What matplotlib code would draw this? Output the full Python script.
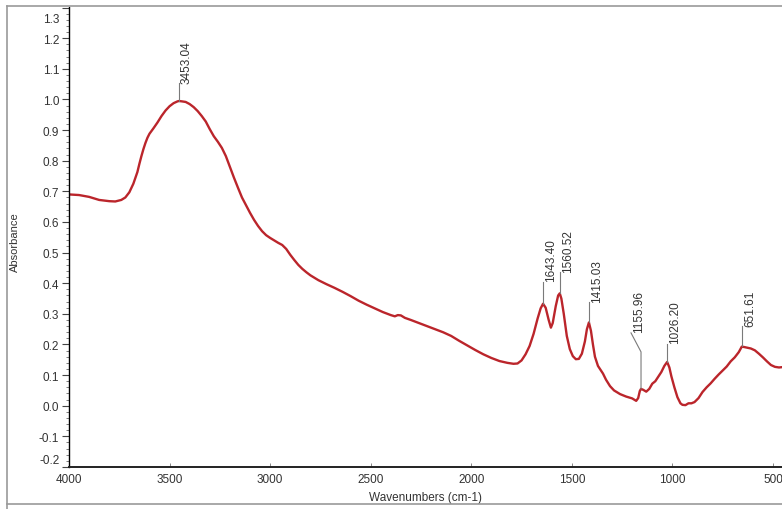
import matplotlib
matplotlib.use("Agg")
import matplotlib.pyplot as plt
import matplotlib.transforms as mtransforms
from matplotlib.lines import Line2D
from matplotlib.ticker import MultipleLocator

plt.rcParams['font.family'] = ['Liberation Sans', 'DejaVu Sans']

# FTIR absorbance spectrum
wavenumber = [
    4000, 3950, 3900, 3850, 3800, 3770, 3740, 3720, 3700, 3680, 3660, 3650, 3640,
    3630, 3620, 3610, 3600, 3580, 3560, 3540, 3520, 3500, 3480, 3460, 3453, 3440, 3420,
    3400, 3380, 3360, 3340, 3320, 3300, 3280, 3260, 3240, 3220, 3200, 3180,
    3160, 3140, 3120, 3100, 3080, 3060, 3040, 3020, 3000, 2980, 2960, 2940,
    2920, 2900, 2880, 2860, 2840, 2820, 2800, 2760, 2720, 2680, 2640, 2600,
    2560, 2520, 2480, 2440, 2400, 2380, 2365, 2350, 2330, 2300, 2260, 2220,
    2180, 2140, 2100, 2060, 2020, 1980, 1940, 1900, 1860, 1820, 1790, 1770,
    1750, 1730, 1710, 1690, 1670, 1655, 1643, 1630, 1615, 1604, 1595, 1580,
    1568, 1560, 1552, 1540, 1525, 1510, 1495, 1480, 1465, 1450, 1435, 1425,
    1415, 1405, 1395, 1385, 1370, 1355, 1345, 1330, 1310, 1290, 1260, 1230,
    1200, 1180, 1170, 1162, 1156, 1145, 1130, 1115, 1100, 1085, 1070, 1055,
    1040, 1026, 1015, 1005, 990, 975, 960, 950, 935, 920, 905, 890, 870, 850,
    830, 810, 790, 770, 750, 730, 710, 690, 670, 655, 645, 630, 610, 590, 570,
    550, 530, 510, 490, 470, 455,
]
absorbance = [
    0.690, 0.688, 0.682, 0.672, 0.668, 0.667, 0.672, 0.680, 0.697, 0.725, 0.763, 0.790, 0.815,
    0.838, 0.858, 0.875, 0.888, 0.906, 0.925, 0.946, 0.964, 0.978, 0.988, 0.994, 0.995, 0.994, 0.992,
    0.985, 0.975, 0.962, 0.946, 0.928, 0.903, 0.880, 0.862, 0.842, 0.815, 0.780, 0.745,
    0.712, 0.680, 0.655, 0.630, 0.607, 0.587, 0.570, 0.557, 0.548, 0.540, 0.532, 0.525,
    0.512, 0.493, 0.476, 0.460, 0.447, 0.436, 0.426, 0.410, 0.397, 0.385, 0.372, 0.358,
    0.343, 0.330, 0.318, 0.306, 0.296, 0.292, 0.296, 0.295, 0.287, 0.280, 0.270, 0.260,
    0.250, 0.240, 0.228, 0.212, 0.197, 0.182, 0.168, 0.156, 0.146, 0.140, 0.137, 0.138,
    0.148, 0.168, 0.195, 0.235, 0.285, 0.318, 0.333, 0.320, 0.280, 0.255, 0.270, 0.325,
    0.360, 0.367, 0.350, 0.300, 0.228, 0.185, 0.162, 0.152, 0.153, 0.170, 0.210, 0.250,
    0.272, 0.245, 0.200, 0.160, 0.130, 0.115, 0.105, 0.085, 0.064, 0.050, 0.038, 0.030,
    0.024, 0.016, 0.025, 0.048, 0.055, 0.052, 0.046, 0.055, 0.072, 0.080, 0.095, 0.110,
    0.130, 0.143, 0.125, 0.096, 0.060, 0.028, 0.008, 0.003, 0.002, 0.008, 0.008, 0.012, 0.025, 0.045,
    0.060, 0.073, 0.088, 0.102, 0.115, 0.128, 0.145, 0.158, 0.175, 0.193, 0.192, 0.190, 0.187, 0.181, 0.170,
    0.158, 0.145, 0.133, 0.127, 0.125, 0.126,
]

# Labelled peaks
peak_wn = [3453.04, 1643.40, 1560.52, 1415.03, 1155.96, 1026.20, 651.61]
peak_abs = [0.995, 0.333, 0.367, 0.272, 0.055, 0.143, 0.195]

DPI = 100
fig = plt.figure(figsize=(7.82, 5.10), dpi=DPI)
W, H = 782, 510
ax = fig.add_axes([69 / W, 42 / H, (W - 69) / W, (468 - 8) / H])

ax.plot(wavenumber, absorbance, color='#bb252b', lw=1.7, solid_joinstyle='round')

ax.set_xlim(4000, 455)
ax.set_ylim(-0.2, 1.302)

ax.xaxis.set_major_locator(MultipleLocator(500))
ax.yaxis.set_major_locator(MultipleLocator(0.1))
ax.yaxis.set_minor_locator(MultipleLocator(0.02))
ax.yaxis.set_major_formatter(plt.FuncFormatter(lambda v, p: f"{v:.1f}"))

for s in ('top', 'right'):
    ax.spines[s].set_visible(False)
ax.spines['left'].set_linewidth(1.0)
ax.spines['bottom'].set_linewidth(1.4)
ax.spines['bottom'].set_color('#222222')

ax.tick_params(axis='y', which='major', direction='out', length=5, width=0.8,
               labelsize=8.5, labelcolor='#333333', color='#444444', pad=2)
ax.tick_params(axis='y', which='minor', direction='out', length=2.5, width=0.6,
               color='#666666')
ax.tick_params(axis='x', which='major', direction='in', length=3, width=0.7,
               labelsize=8.5, labelcolor='#333333', color='#888888', pad=4)

ax.set_xlabel('Wavenumbers (cm-1)', fontsize=8.5, color='#333333', labelpad=5)
ax.set_ylabel('Absorbance', fontsize=8, color='#333333')
ax.yaxis.set_label_coords(-49 / 713, 0.49)

# keep the end labels of the y axis inside the frame
fig.canvas.draw()
yticks = ax.yaxis.get_major_ticks()
locs = ax.yaxis.get_majorticklocs()
for t, v in zip(yticks, locs):
    if abs(v - 1.3) < 1e-6:
        t.label1.set_transform(t.label1.get_transform() +
                               mtransforms.ScaledTranslation(0, -7 / 72, fig.dpi_scale_trans))
    if abs(v + 0.2) < 1e-6:
        t.label1.set_transform(t.label1.get_transform() +
                               mtransforms.ScaledTranslation(0, 6 / 72, fig.dpi_scale_trans))

# peak markers: leader line (pixel offsets) and rotated label
leaders = {
    3453.04: [(0, 0), (0, 18)],
    1643.40: [(0, 0), (0, 22)],
    1560.52: [(0, 0), (0, 21)],
    1415.03: [(0, 0), (0, 20)],
    1155.96: [(0, 0), (0, 37), (-10, 56)],
    1026.20: [(0, 0), (0, 18)],
    651.61: [(0, 0), (0, 20)],
}
for wn, a in zip(peak_wn, peak_abs):
    anchor = fig.dpi_scale_trans + mtransforms.ScaledTranslation(wn, a, ax.transData)
    pts = leaders[wn]
    xs = [p[0] / DPI for p in pts]
    ys = [p[1] / DPI for p in pts]
    ax.add_artist(Line2D(xs, ys, transform=anchor, color='#7a7a7a', lw=0.8, clip_on=False))
    tx, ty = pts[-1]
    ax.text((tx + 8) / DPI, (ty + 0.5) / DPI, f"{wn:.2f}", transform=anchor,
            rotation=90, ha='center', va='bottom', fontsize=8.5, color='#333333',
            clip_on=False)

# outer frame
frame_kw = dict(color='#9a9a9a', lw=1.2, transform=fig.transFigure)
fig.add_artist(Line2D([7 / W, 7 / W], [0, 1 - 7 / H], **frame_kw))
fig.add_artist(Line2D([7 / W, 1], [1 - 7 / H, 1 - 7 / H], **frame_kw))
fig.add_artist(Line2D([7 / W, 1], [1 - 505 / H, 1 - 505 / H], **frame_kw))

fig.savefig('out.png', dpi=DPI)
